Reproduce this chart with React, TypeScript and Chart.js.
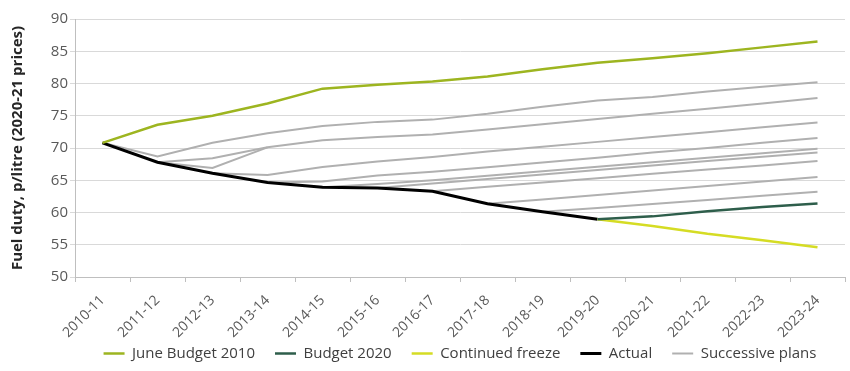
import React, { useEffect, useRef } from "react";
import { Chart, registerables } from "chart.js";

Chart.register(...registerables);

const categories = [
  "2010-11", "2011-12", "2012-13", "2013-14", "2014-15", "2015-16", "2016-17",
  "2017-18", "2018-19", "2019-20", "2020-21", "2021-22", "2022-23", "2023-24",
];

const yTicks = [50, 55, 60, 65, 70, 75, 80, 85, 90];

const juneBudget2010 = [70.8, 73.6, 75.0, 76.9, 79.2, 79.8, 80.3, 81.1, 82.2, 83.2, 83.9, 84.7, 85.6, 86.5];
const budget2020 = [null, null, null, null, null, null, null, null, null, 58.95, 59.4, 60.2, 60.85, 61.4];
const continuedFreeze = [null, null, null, null, null, null, null, null, null, 58.95, 57.9, 56.7, 55.7, 54.6];
const actual = [70.8, 67.8, 66.1, 64.65, 63.9, 63.8, 63.3, 61.35, 60.1, 58.95, null, null, null, null];

const planA = [70.8, 68.7, 70.8, 72.3, 73.4, 74.05, 74.4, 75.3, 76.4, 77.35, 77.9, 78.75, 79.5, 80.2];
const planB = [null, 67.8, 68.4, 70.1, 71.2, 71.7, 72.1, 72.85, 73.7, 74.5, 75.3, 76.1, 76.9, 77.75];
const planC = [null, 67.8, 66.9, 70.1, null, null, null, null, null, null, null, null, null, null];
const planD = [null, null, 66.1, 65.8, 67.05, 67.9, 68.6, 69.45, 70.2, 70.95, 71.7, 72.45, 73.2, 73.95];
const planE = [null, null, null, 64.65, 64.8, 65.75, 66.3, 67.0, 67.75, 68.5, 69.3, 70.0, 70.8, 71.55];
const planF = [null, null, null, null, 63.9, 64.4, 65.0, 65.7, 66.4, 67.1, 67.8, 68.5, 69.2, 69.9];
const planG = [null, null, null, null, null, 63.8, 64.5, 65.2, 65.9, 66.6, 67.3, 68.0, 68.65, 69.3];
const planH = [null, null, null, null, null, null, 63.3, 64.0, 64.65, 65.3, 66.0, 66.65, 67.3, 68.0];
const planI = [null, null, null, null, null, null, null, 61.35, 62.0, 62.7, 63.4, 64.1, 64.8, 65.5];
const planJ = [null, null, null, null, null, null, null, null, 60.1, 60.7, 61.3, 61.95, 62.6, 63.2];

const plans = [planA, planB, planC, planD, planE, planF, planG, planH, planI, planJ];

const FONT = "'Open Sans', 'Noto Sans', sans-serif";

export default function App() {
  const ref = useRef<HTMLCanvasElement | null>(null);

  useEffect(() => {
    document.body.style.margin = "0";
    const ctx = ref.current!;
    const main = [
      { label: "June Budget 2010", data: juneBudget2010, borderColor: "#9DB520", borderWidth: 2.5 },
      { label: "Budget 2020", data: budget2020, borderColor: "#2E5E4B", borderWidth: 2.5 },
      { label: "Continued freeze", data: continuedFreeze, borderColor: "#D5DC24", borderWidth: 2.5 },
      { label: "Actual", data: actual, borderColor: "#000000", borderWidth: 3 },
    ];
    const greys = plans.map((p) => ({
      label: "Successive plans",
      data: p,
      borderColor: "#B0B0B0",
      borderWidth: 2,
    }));
    const datasets = [...main, ...greys].map((d) => ({
      ...d,
      backgroundColor: d.borderColor,
      pointRadius: 0,
      pointHoverRadius: 0,
      tension: 0,
      fill: false,
      spanGaps: false,
    }));

    const chart = new Chart(ctx, {
      type: "line",
      data: { labels: categories, datasets },
      options: {
        animation: false,
        responsive: false,
        maintainAspectRatio: false,
        layout: { padding: { top: 19, right: 5, left: 0, bottom: 0 } },
        plugins: {
          tooltip: { enabled: false },
          legend: {
            position: "bottom",
            fullSize: false,
            labels: {
              usePointStyle: true,
              pointStyle: "line",
              pointStyleWidth: 21,
              padding: 20,
              color: "#404040",
              font: { family: FONT, size: 15 },
              filter: (item: any) => item.datasetIndex <= 4,
            },
          },
        },
        scales: {
          x: {
            type: "category",
            offset: true,
            afterFit: (scale: any) => {
              scale.height = 49;
              // let rotated labels overflow into the legend's empty top padding
              scale._computeLabelArea = () => undefined;
            },
            border: { display: true, color: "#BFBFBF" },
            grid: { display: true, drawOnChartArea: false, drawTicks: true, tickLength: 5, color: "#BFBFBF", offset: true },
            ticks: {
              color: "#595959",
              font: { family: FONT, size: 14 },
              minRotation: 45,
              maxRotation: 45,
              autoSkip: false,
              padding: 10,
            },
          },
          y: {
            min: 50,
            max: 90,
            afterBuildTicks: (scale: any) => {
              scale.ticks = yTicks.map((v) => ({ value: v }));
            },
            afterFit: (scale: any) => {
              scale.width = 75;
            },
            border: { display: true, color: "#BFBFBF" },
            grid: { color: "#D9D9D9", drawTicks: true, tickLength: 5 },
            ticks: {
              color: "#595959",
              font: { family: FONT, size: 15 },
              padding: 2,
            },
            title: {
              display: true,
              text: "Fuel duty, p/litre (2020-21 prices)",
              color: "#262626",
              font: { family: FONT, size: 15, weight: "bold" },
              padding: { top: 9, bottom: 0 },
            },
          },
        },
      },
    });
    return () => chart.destroy();
  }, []);

  return (
    <div style={{ width: 850, height: 371, position: "relative", background: "#fff" }}>
      <canvas ref={ref} width={850} height={371} style={{ display: "block" }} />
    </div>
  );
}
